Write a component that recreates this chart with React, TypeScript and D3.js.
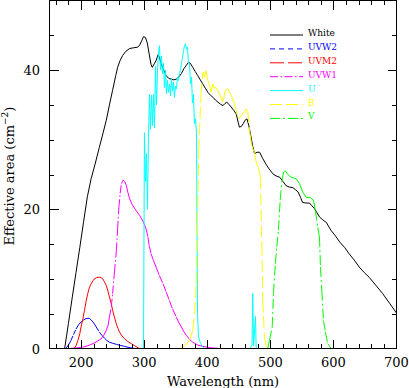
import React from "react";
import * as d3 from "d3";

const whiteData: [number, number][] = [[174,0],[180,3.6],[186,7.3],[192,10.9],[198,14.5],[204,18.2],[210,21.8],[216,24.4],[222,26.4],[229,28.9],[235,31],[240,32.8],[245,35],[250,37.1],[255,39.2],[258,40.4],[262,41.4],[266,42.1],[271,42.7],[277,43.1],[283,43.2],[290,43.3],[293,43.6],[296,44.2],[299,44.8],[302,44.7],[305,43.9],[308,42.3],[311,40.8],[313,40.4],[316,40.9],[319,41.4],[322,42.2],[324,41.9],[327,40.9],[331,40],[335,39.2],[339,38.8],[343,38.7],[347,38.6],[351,38.7],[355,39.0],[359,39.5],[363,40.2],[367,40.7],[370,41.1],[373,41.0],[377,40.4],[381,39.8],[385,39.2],[389,38.6],[393,38.0],[397,37.4],[401,36.8],[405,36.4],[409,36.1],[413,35.7],[417,35.4],[421,35.1],[425,34.9],[428,35.2],[431,35.4],[434,35.1],[438,34.7],[442,34.2],[446,33.7],[449,32.5],[451,31.8],[454,31.9],[457,32.3],[460,32.8],[463,33.0],[466,32.0],[469,30.6],[472,29.1],[475,28.0],[479,28.2],[483,28.2],[488,27.3],[493,26.5],[498,25.8],[504,25.1],[509,24.8],[515,24.6],[520,24.0],[525,23.4],[530,23.2],[536,23.1],[540,22.8],[544,22.5],[548,21.7],[551,21.0],[556,20.9],[562,20.9],[566,20.5],[570,20.1],[574,19.5],[578,18.9],[583,18.5],[589,18.1],[592,17.6],[596,17.0],[603,16.2],[610,15.3],[618,14.5],[625,13.6],[633,12.7],[641,11.7],[649,10.9],[657,10.2],[668,9.0],[678,7.9],[689,6.5],[700,5.1]];

const uvw2Data: [number, number][] = [[150,0],[176,0],[180,0.5],[184,1.15],[188,2.0],[192,2.8],[196,3.4],[200,3.8],[204,4.1],[208,4.3],[213,4.35],[216,4.1],[219,3.8],[222,3.4],[224,3.1],[229,2.35],[233,1.9],[237,1.5],[241,1.15],[245,0.9],[250,0.75],[256,0.6],[262,0.45],[269,0.3],[276,0.15],[285,0],[700,0]];

const uvm2Data: [number, number][] = [[150,0],[189,0],[192,0.4],[195,1.15],[198,2.1],[200,3.1],[203,4.3],[205.5,5.5],[208,6.8],[210.7,7.9],[213,8.7],[216,9.3],[219,9.75],[221,10.0],[225,10.2],[229,10.25],[232,10.15],[234.5,10.0],[237,9.6],[240,9.05],[242.5,8.3],[245,7.4],[248,6.4],[250,5.5],[253,4.5],[256,3.5],[258.5,2.9],[261,2.35],[265,1.8],[269,1.4],[274,1.0],[279.5,0.7],[285,0.4],[292,0],[700,0]];

const uvw1Data: [number, number][] = [[150,0],[179,0],[190,0.05],[203,0.2],[211,0.4],[219,0.7],[225,1.0],[232,1.4],[236,1.9],[240,2.6],[243,3.4],[245,4.5],[248,6.0],[250,7.9],[253,11],[256,14.1],[258,17.2],[260,20.3],[262,22.3],[264,23.7],[267,24.2],[269,24.0],[272,23.4],[274,22.5],[277,21.5],[281,20.7],[285,20.1],[289,19.6],[293,19.1],[297,18.5],[300,17.9],[303,17.2],[306,16.0],[308,14.8],[311,13.6],[315,12.6],[319,11.7],[324,10.5],[330,9.3],[335,8.1],[340,6.9],[345,5.7],[351,4.5],[355,3.7],[359,3.1],[363,2.4],[367,1.9],[372,1.3],[377,0.9],[385,0.5],[393,0.3],[405,0.1],[422,0],[700,0]];

const uData: [number, number][] = [[150,0],[299,0],[300.5,31],[302,24],[303.7,28],[305.3,20],[306.9,30.5],[308.5,36.5],[310,31.5],[311.7,36.4],[313.3,32],[314.8,36.5],[316.4,31.7],[318,40.5],[319.6,35],[321.2,40],[322.8,42.5],[324.3,43.5],[326,40],[327.5,42],[329,39.5],[330.7,41],[332.2,37.5],[333.8,40],[335.4,36.6],[337,38.5],[338.6,36.8],[340.2,38],[341.8,36.3],[343.3,38.8],[344.9,37],[346.5,38.3],[348.1,36.1],[349.7,37.7],[351.3,37.3],[352.9,39],[354.4,38.5],[356,39.5],[357.6,40],[359.2,41],[360.8,41.8],[362.4,42.8],[364,43.5],[365.5,43.8],[367.1,43],[368.7,43.3],[370.3,41],[371.9,40.9],[373.5,38],[375.1,39],[376.6,35.3],[378.2,36.5],[379.8,32.3],[381.4,33],[383,31],[384.6,5],[386.1,1.8],[387.7,1.2],[389.3,0.8],[392.5,0.3],[395.6,0],[468,0],[471,0.5],[472.2,7.9],[473.5,0.4],[476.5,4.6],[477.5,0.2],[480,0],[700,0]];

const bData: [number, number][] = [[150,0],[358,0],[366,0.5],[372,1.2],[377,2.6],[380,5],[382.5,9.3],[384.5,18],[386.6,28.4],[390,36.4],[393,39.7],[395.6,39],[398.3,39.9],[401,38.5],[403.6,37.8],[406.3,36.8],[408.8,38.0],[411,37.4],[414.2,37.5],[419.4,36.6],[424.6,35.4],[428.9,37.1],[432.6,37.3],[435,36.9],[438,36.4],[443.2,35.2],[448.4,33.2],[451.1,33.1],[455,33.6],[459,34],[461.7,34.4],[464.3,34.1],[467,31.3],[470,29.5],[472.2,28.7],[474.9,28.2],[477.5,26.8],[481.2,26],[484.4,24.6],[486.5,15],[488,6.9],[490.7,1.6],[493.4,0.3],[497,0],[600,0]];

const vData: [number, number][] = [[150,0],[496,0],[498.7,1.15],[503,3.1],[505,7.9],[508,12.2],[510.2,14.6],[512.9,17],[515.6,21.3],[518.2,23.9],[520.8,25.3],[524,25.5],[527.7,25],[533,24.6],[541,24.4],[546.2,23.7],[551.4,22.5],[556.8,21.7],[563.1,21.7],[568.4,21.3],[571.5,19.8],[575.2,17.4],[577.9,16],[579.5,11.7],[581.6,8.3],[584.2,4],[587.4,2.35],[591,0.7],[596.4,0],[700,0]];

const seriesNames = ["White", "UVW2", "UVM2", "UVW1", "U", "B", "V"];
const seriesColors = ["#000000", "#0000ff", "#ff0000", "#ff00ff", "#00ffff", "#ffff00", "#00ff00"];
const seriesDash = [null, "5 4", "14 4", "8 2.5 1.5 2.5", null, "12 4", "10 3 2 3"];
const seriesData = [whiteData, uvw2Data, uvm2Data, uvw1Data, uData, bData, vData];

const xTickLabels = [200, 300, 400, 500, 600, 700];
const yTickLabels = [0, 20, 40];

const W = 409, H = 388;
const FONT = "'DejaVu Serif', serif";

export default function App() {
  const x = d3.scaleLinear().domain([150, 700]).range([49.5, 396.5]);
  const y = d3.scaleLinear().domain([0, 50]).range([348.5, 0.5]);
  const line = d3.line<[number, number]>().x(d => x(d[0])).y(d => y(d[1]));

  const xMinor = d3.range(160, 700, 20);
  const yMinor = d3.range(5, 50, 5);
  const majL = 9, minL = 4.5;

  return (
    <div style={{ position: "absolute", left: 0, top: 0 }}>
      <svg width={W} height={H} style={{ display: "block", background: "#fff" }} fontFamily={FONT}>
        {/* curves */}
        {seriesData.map((data, i) => {
          const dash = seriesDash[i];
          if (!dash) {
            return <path key={i} d={line(data) || ""} fill="none" stroke={seriesColors[i]} strokeWidth={1} />;
          }
          return (
            <g key={i} stroke={seriesColors[i]} strokeWidth={1} strokeDasharray={dash}>
              {data.slice(1).map((d, j) => (
                <line key={j} x1={x(data[j][0])} y1={y(data[j][1])} x2={x(d[0])} y2={y(d[1])} />
              ))}
            </g>
          );
        })}
        {/* frame */}
        <rect x={49.5} y={0.5} width={347} height={348} fill="none" stroke="#000" strokeWidth={1} shapeRendering="crispEdges" />
        {/* x ticks */}
        <g stroke="#000" strokeWidth={1} shapeRendering="crispEdges">
          {xMinor.map(v => {
            const L = v % 100 === 0 ? majL : minL;
            const px = Math.round(x(v)) + 0.5;
            return (
              <g key={v}>
                <line x1={px} x2={px} y1={348.5} y2={348.5 - L} />
                <line x1={px} x2={px} y1={0.5} y2={0.5 + L} />
              </g>
            );
          })}
          {yMinor.map(v => {
            const L = v % 20 === 0 ? majL : minL;
            const py = Math.round(y(v)) + 0.5;
            return (
              <g key={v}>
                <line x1={49.5} x2={49.5 + L} y1={py} y2={py} />
                <line x1={396.5} x2={396.5 - L} y1={py} y2={py} />
              </g>
            );
          })}
        </g>
        {/* tick labels */}
        {xTickLabels.map(v => (
          <text key={v} x={x(v)} y={367} textAnchor="middle" fontSize={13} fill="#000">{v}</text>
        ))}
        {yTickLabels.map(v => (
          <text key={v} x={40} y={y(v) + 5} textAnchor="end" fontSize={13} fill="#000">{v}</text>
        ))}
        {/* axis titles */}
        <text x={223} y={386} textAnchor="middle" fontSize={13} fill="#000">Wavelength (nm)</text>
        <text transform={`translate(14,176) rotate(-90)`} textAnchor="middle" fontSize={13} fill="#000">
          Effective area (cm<tspan fontSize={9} dy={-6}>−2</tspan><tspan dy={6}>)</tspan>
        </text>
        {/* legend */}
        {seriesNames.map((name, i) => {
          const ly = 35 + i * 13.9;
          return (
            <g key={name}>
              <line x1={270} x2={303} y1={ly} y2={ly} stroke={seriesColors[i]} strokeWidth={1}
                strokeDasharray={seriesDash[i] || undefined} />
              <text x={308} y={ly + 1} fontSize={9} fill={seriesColors[i]}>{name}</text>
            </g>
          );
        })}
      </svg>
    </div>
  );
}
